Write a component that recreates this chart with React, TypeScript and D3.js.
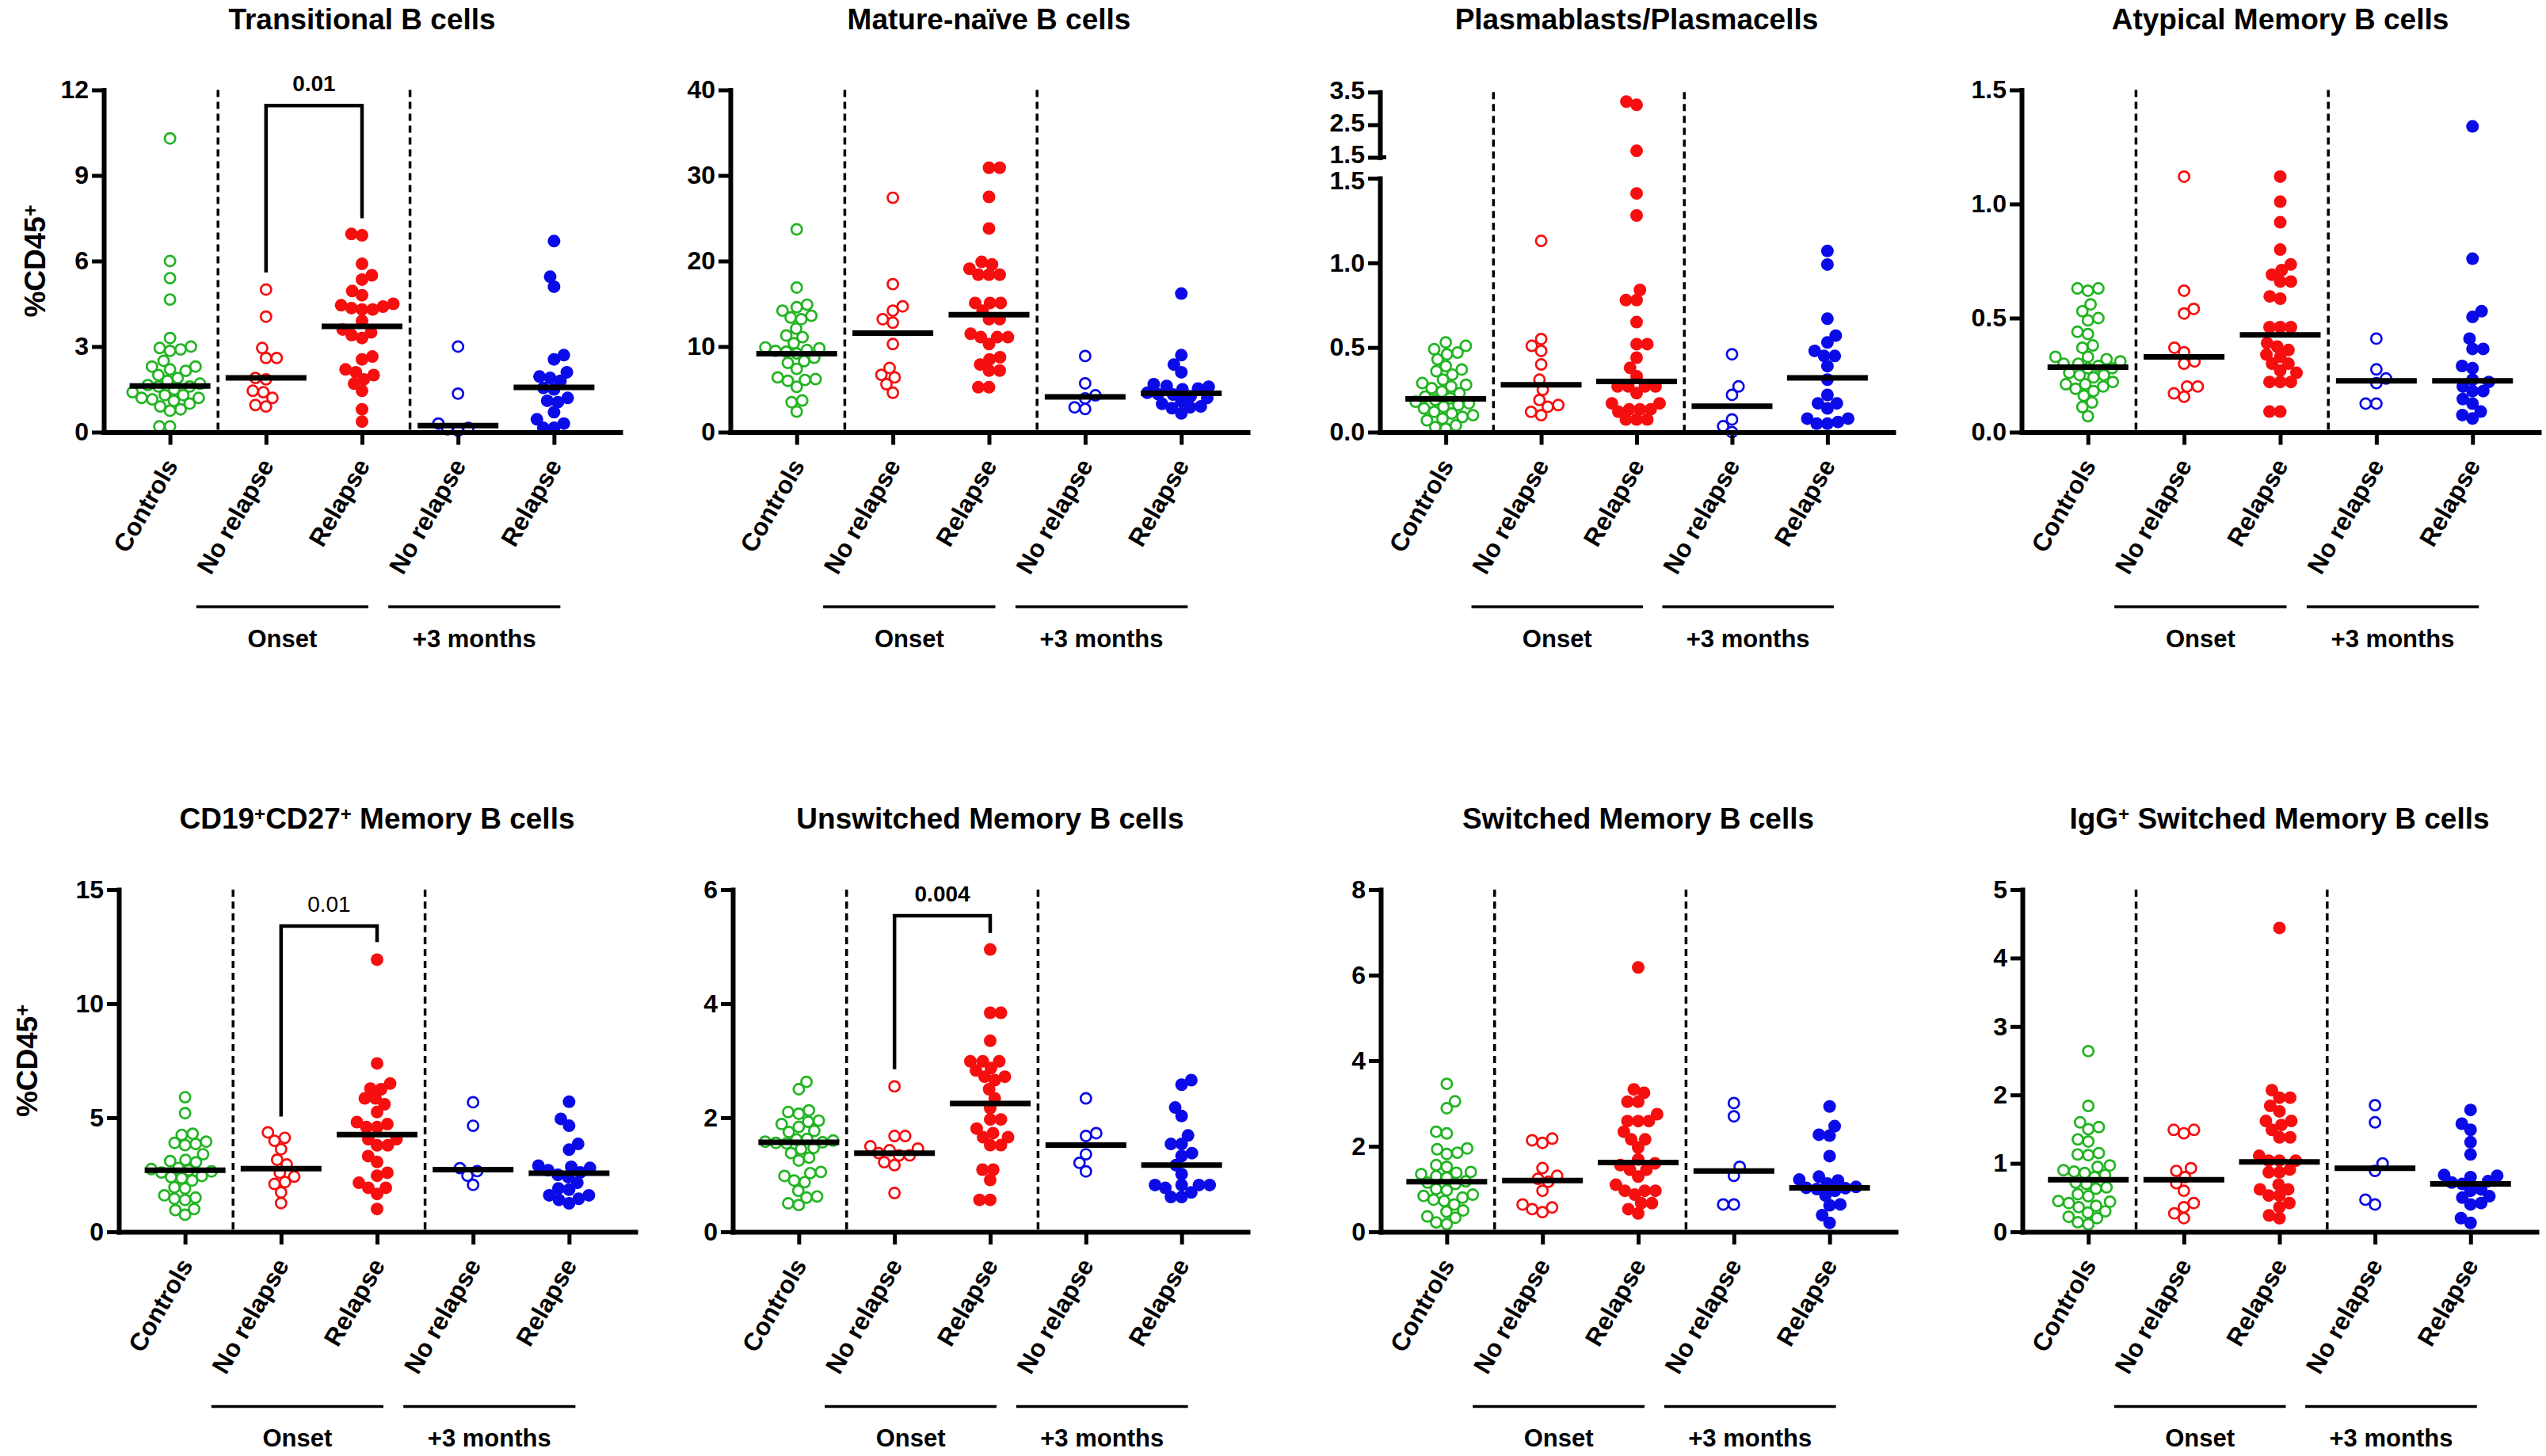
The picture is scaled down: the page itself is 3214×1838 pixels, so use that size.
import { useEffect, useRef } from 'react';
import * as d3 from 'd3';

// ---- categories / labels ----
const categories = ['Controls', 'No relapse', 'Relapse', 'No relapse', 'Relapse'];
const timepoints = ['Onset', '+3 months'];
const timepointGroups = [[1, 2], [3, 4]];
const groupColors = ['#22b422', '#f50f0f', '#f50f0f', '#0b0be8', '#0b0be8'];
const groupFilled = [false, false, true, false, true];

const panelTitles = [
  'Transitional B cells',
  'Mature-naïve B cells',
  'Plasmablasts/Plasmacells',
  'Atypical Memory B cells',
  'CD19^+CD27^+ Memory B cells',
  'Unswitched Memory B cells',
  'Switched Memory B cells',
  'IgG^+ Switched Memory B cells',
];

// ---- values (% of CD45+), groups: controls, onset no relapse, onset relapse, +3m no relapse, +3m relapse ----
const transitional = [
  [10.3, 6.0, 5.4, 4.65, 3.3, 3.0, 2.95, 2.9, 2.85, 2.5, 2.3, 2.3, 2.2, 2.15, 2.0, 1.9, 1.8, 1.7, 1.65, 1.6, 1.6, 1.5, 1.4, 1.3, 1.3, 1.2, 1.2, 1.15, 1.1, 1.0, 0.9, 0.8, 0.75, 0.2, 0.2],
  [5.0, 4.05, 2.95, 2.6, 2.6, 1.9, 1.85, 1.45, 1.4, 1.2, 0.95, 0.9],
  [6.95, 6.9, 5.9, 5.5, 5.35, 4.95, 4.8, 4.5, 4.45, 4.4, 4.35, 4.3, 4.3, 3.9, 3.6, 3.5, 3.4, 3.3, 2.65, 2.55, 2.2, 2.1, 2.0, 1.85, 1.7, 1.45, 0.8, 0.37],
  [3.0, 1.35, 0.3, 0.15, 0.1, 0.05],
  [6.7, 5.45, 5.1, 2.7, 2.55, 2.1, 1.95, 1.9, 1.8, 1.55, 1.5, 1.2, 1.1, 1.05, 0.7, 0.45, 0.3, 0.15, 0.15],
];
const transitionalMedians = [1.62, 1.9, 3.71, 0.23, 1.57];

const matureNaive = [
  [23.7, 16.9, 14.9, 14.6, 14.2, 13.6, 13.4, 13.2, 12.1, 11.3, 11.1, 10.4, 9.9, 9.8, 9.6, 9.5, 9.4, 9.2, 8.7, 8.3, 8.1, 7.4, 6.4, 6.2, 6.1, 6.0, 5.3, 3.7, 3.5, 2.4],
  [27.4, 17.3, 14.7, 14.2, 13.2, 12.8, 10.3, 7.5, 6.7, 6.4, 5.6, 4.6],
  [30.9, 30.9, 27.5, 23.8, 19.9, 19.6, 19.1, 18.4, 18.4, 18.4, 15.1, 15.1, 15.1, 14.2, 13.2, 13.2, 11.5, 11.1, 11.1, 11.1, 10.3, 8.75, 8.5, 7.9, 7.2, 7.2, 5.25, 5.25],
  [8.9, 5.7, 4.3, 3.95, 2.9, 2.7],
  [16.2, 9.0, 7.9, 7.0, 5.6, 5.4, 5.3, 5.1, 5.0, 4.6, 4.45, 4.4, 4.2, 4.0, 3.6, 3.3, 3.0, 2.9, 2.8, 2.2],
];
const matureNaiveMedians = [9.17, 11.57, 13.73, 4.12, 4.53];

const plasma = [
  [0.53, 0.51, 0.49, 0.47, 0.46, 0.43, 0.39, 0.37, 0.36, 0.34, 0.31, 0.29, 0.28, 0.27, 0.26, 0.24, 0.23, 0.21, 0.2, 0.19, 0.18, 0.17, 0.16, 0.15, 0.14, 0.12, 0.11, 0.1, 0.09, 0.08, 0.07, 0.04, 0.03, 0.02],
  [1.13, 0.55, 0.51, 0.48, 0.4, 0.31, 0.25, 0.19, 0.16, 0.15, 0.12, 0.1],
  [3.21, 3.11, 1.7, 1.41, 1.28, 0.84, 0.78, 0.78, 0.65, 0.52, 0.52, 0.44, 0.38, 0.33, 0.27, 0.27, 0.27, 0.27, 0.23, 0.17, 0.17, 0.135, 0.135, 0.135, 0.12, 0.075, 0.075, 0.075],
  [0.46, 0.27, 0.22, 0.075, 0.035, 0.0],
  [1.07, 0.99, 0.67, 0.57, 0.53, 0.48, 0.45, 0.45, 0.39, 0.31, 0.22, 0.17, 0.17, 0.14, 0.08, 0.08, 0.06, 0.05, 0.05],
];
const plasmaMedians = [0.196, 0.28, 0.3, 0.153, 0.32];

const atypical = [
  [0.63, 0.63, 0.62, 0.56, 0.53, 0.5, 0.49, 0.44, 0.43, 0.38, 0.37, 0.33, 0.33, 0.32, 0.31, 0.3, 0.3, 0.29, 0.28, 0.28, 0.26, 0.25, 0.25, 0.24, 0.22, 0.21, 0.21, 0.2, 0.19, 0.18, 0.16, 0.13, 0.11, 0.07],
  [1.12, 0.62, 0.54, 0.52, 0.37, 0.35, 0.31, 0.3, 0.2, 0.2, 0.17, 0.155],
  [1.12, 1.01, 0.92, 0.8, 0.735, 0.71, 0.69, 0.66, 0.66, 0.595, 0.585, 0.46, 0.46, 0.46, 0.39, 0.375, 0.36, 0.34, 0.33, 0.3, 0.3, 0.27, 0.26, 0.22, 0.22, 0.22, 0.09, 0.09],
  [0.41, 0.275, 0.235, 0.215, 0.125, 0.125],
  [1.34, 0.76, 0.53, 0.505, 0.41, 0.365, 0.365, 0.29, 0.28, 0.23, 0.22, 0.2, 0.18, 0.18, 0.145, 0.125, 0.09, 0.075, 0.06],
];
const atypicalMedians = [0.285, 0.33, 0.426, 0.225, 0.225];

const memory = [
  [5.9, 5.2, 4.3, 4.25, 3.95, 3.9, 3.85, 3.8, 3.4, 3.15, 3.1, 3.05, 2.8, 2.75, 2.7, 2.65, 2.6, 2.45, 2.4, 2.35, 2.25, 1.95, 1.9, 1.6, 1.5, 1.45, 1.4, 1.0, 0.95, 0.75],
  [4.36, 4.12, 3.99, 3.62, 3.16, 2.95, 2.59, 2.42, 2.18, 2.1, 1.73, 1.26],
  [11.93, 7.38, 6.5, 6.28, 6.25, 5.85, 5.85, 5.59, 5.25, 4.81, 4.72, 4.59, 4.59, 4.06, 4.06, 3.79, 3.79, 3.32, 3.06, 2.59, 2.46, 2.15, 1.93, 1.93, 1.66, 1.0],
  [5.68, 4.65, 2.79, 2.66, 2.46, 2.06],
  [5.7, 4.95, 4.65, 3.85, 3.6, 2.9, 2.85, 2.8, 2.7, 2.6, 2.5, 2.4, 2.15, 1.9, 1.85, 1.6, 1.6, 1.45, 1.4, 1.25],
];
const memoryMedians = [2.7, 2.77, 4.26, 2.73, 2.57];

const unswitched = [
  [2.63, 2.5, 2.13, 2.1, 2.07, 1.95, 1.93, 1.89, 1.84, 1.77, 1.75, 1.63, 1.62, 1.6, 1.58, 1.57, 1.56, 1.55, 1.47, 1.45, 1.38, 1.3, 1.25, 1.05, 1.03, 0.98, 0.9, 0.87, 0.72, 0.62, 0.6, 0.5, 0.47],
  [2.55, 1.68, 1.68, 1.5, 1.46, 1.43, 1.38, 1.34, 1.34, 1.22, 1.17, 0.68],
  [4.95, 3.84, 3.84, 3.35, 2.99, 2.99, 2.99, 2.87, 2.83, 2.72, 2.72, 2.66, 2.5, 2.34, 2.17, 1.97, 1.97, 1.81, 1.73, 1.66, 1.66, 1.52, 1.52, 1.09, 1.09, 0.91, 0.56, 0.56],
  [2.34, 1.73, 1.68, 1.36, 1.21, 1.06],
  [2.66, 2.58, 2.18, 2.03, 1.69, 1.54, 1.54, 1.38, 1.33, 1.17, 1.01, 0.82, 0.82, 0.82, 0.82, 0.77, 0.69, 0.61, 0.61],
];
const unswitchedMedians = [1.57, 1.38, 2.25, 1.52, 1.17];

const switched = [
  [3.46, 3.05, 2.89, 2.34, 2.3, 1.95, 1.93, 1.85, 1.82, 1.56, 1.52, 1.4, 1.38, 1.35, 1.3, 1.27, 1.18, 1.15, 1.12, 1.0, 0.97, 0.87, 0.84, 0.8, 0.75, 0.72, 0.64, 0.5, 0.47, 0.36, 0.33, 0.22, 0.18],
  [2.18, 2.14, 2.08, 1.49, 1.31, 1.24, 1.17, 0.96, 0.64, 0.57, 0.53, 0.46],
  [6.18, 3.33, 3.25, 3.04, 3.04, 2.75, 2.59, 2.59, 2.59, 2.34, 2.16, 2.16, 1.97, 1.69, 1.6, 1.56, 1.45, 1.45, 1.29, 1.1, 0.96, 0.96, 0.96, 0.87, 0.67, 0.67, 0.53, 0.43],
  [3.01, 2.7, 1.52, 1.31, 0.64, 0.64],
  [2.93, 2.47, 2.27, 2.25, 1.77, 1.29, 1.22, 1.2, 1.13, 1.05, 1.03, 1.02, 1.0, 0.96, 0.85, 0.64, 0.62, 0.39, 0.21],
];
const switchedMedians = [1.17, 1.2, 1.62, 1.42, 1.03];

const iggSwitched = [
  [2.64, 1.84, 1.6, 1.53, 1.5, 1.35, 1.32, 1.15, 1.13, 1.12, 0.97, 0.95, 0.9, 0.88, 0.86, 0.83, 0.8, 0.72, 0.7, 0.65, 0.63, 0.55, 0.52, 0.45, 0.44, 0.42, 0.38, 0.36, 0.3, 0.28, 0.22, 0.2, 0.14, 0.11],
  [1.49, 1.49, 1.44, 0.93, 0.89, 0.8, 0.71, 0.6, 0.42, 0.36, 0.27, 0.2],
  [4.44, 2.07, 1.96, 1.96, 1.84, 1.76, 1.62, 1.62, 1.56, 1.49, 1.38, 1.38, 1.11, 1.04, 1.04, 1.04, 0.91, 0.87, 0.87, 0.69, 0.62, 0.62, 0.53, 0.53, 0.42, 0.36, 0.24, 0.2],
  [1.85, 1.6, 1.0, 0.89, 0.47, 0.4],
  [1.78, 1.58, 1.49, 1.31, 1.13, 0.83, 0.82, 0.8, 0.74, 0.72, 0.7, 0.62, 0.6, 0.52, 0.5, 0.42, 0.4, 0.2, 0.13],
];
const iggSwitchedMedians = [0.76, 0.76, 1.02, 0.93, 0.7];

const panelValues = [transitional, matureNaive, plasma, atypical, memory, unswitched, switched, iggSwitched];
const panelMedians = [transitionalMedians, matureNaiveMedians, plasmaMedians, atypicalMedians, memoryMedians, unswitchedMedians, switchedMedians, iggSwitchedMedians];

// y ticks (plasma panel has a broken axis: lower 0-1.5, upper 1.5-3.5)
const panelTicks = [
  [0, 3, 6, 9, 12],
  [0, 10, 20, 30, 40],
  [0, 0.5, 1.0, 1.5],
  [0, 0.5, 1.0, 1.5],
  [0, 5, 10, 15],
  [0, 2, 4, 6],
  [0, 2, 4, 6, 8],
  [0, 1, 2, 3, 4, 5],
];
const plasmaUpperTicks = [1.5, 2.5, 3.5];
const decimalPanels = [2, 3];

// p-value brackets: panel, bracket level, leg ends, label
const sigPanel = [0, 4, 5];
const sigTop = [11.45, 13.4, 5.54];
const sigLeft = [5.6, 5.05, 2.85];
const sigRight = [7.5, 12.7, 5.24];
const sigLabel = ['0.01', '0.01', '0.004'];
const sigBold = [true, false, true];

// ---- layout ----
const W = 3214;
const H = 1838;
const FONT = '"Liberation Sans", Arial, Helvetica, sans-serif';
const panelLeft = [131, 922, 1742, 2552, 150, 925, 1743, 2553];
const panelRight = [783, 1575, 2390, 3205, 802, 1575, 2393, 3202];
const rowBase = [545.5, 1555];
const yLabelX = [57, 47];
const plotH = 432;

function swarm(ys: number[], D: number): number[] {
  const order = d3.range(ys.length).sort((a, b) => ys[b] - ys[a]);
  const placed: { x: number; y: number }[] = [];
  const xs = new Array(ys.length).fill(0);
  let flip = 1;
  for (const i of order) {
    const y = ys[i];
    const near = placed.filter(p => Math.abs(p.y - y) < D);
    const cands = [0];
    near.forEach(p => {
      const dx = Math.sqrt(D * D - (p.y - y) ** 2);
      cands.push(p.x - dx, p.x + dx);
    });
    cands.sort((a, b) => {
      const d = Math.abs(a) - Math.abs(b);
      if (Math.abs(d) < 0.5) return (a - b) * flip;
      return d;
    });
    let x = 0;
    for (const c of cands) {
      if (near.every(p => (p.x - c) ** 2 + (p.y - y) ** 2 >= D * D - 0.5)) { x = c; break; }
    }
    if (Math.abs(x) > 0.5) flip = -flip;
    placed.push({ x, y });
    xs[i] = x;
  }
  return xs;
}

function styleAxis(ax: any) {
  ax.select('.domain').attr('stroke-width', 6).attr('stroke-linecap', 'square');
  ax.selectAll('.tick line').attr('stroke-width', 5);
  ax.selectAll('.tick text')
    .attr('font-size', 32)
    .attr('font-weight', 'bold')
    .attr('font-family', FONT)
    .attr('fill', '#000');
}

function addTitle(g: any, text: string, x: number, y: number, size: number) {
  const t = g.append('text')
    .attr('x', x).attr('y', y)
    .attr('text-anchor', 'middle')
    .attr('font-family', FONT)
    .attr('font-weight', 'bold')
    .attr('font-size', size);
  text.split(/(\^\+)/).filter(s => s.length).forEach(part => {
    if (part === '^+') {
      t.append('tspan').attr('baseline-shift', '42%').attr('font-size', size * 0.65).text('+');
    } else {
      t.append('tspan').text(part);
    }
  });
  return t;
}

export default function App() {
  const ref = useRef<SVGSVGElement>(null);

  useEffect(() => {
    if (!ref.current) return;
    const svg = d3.select(ref.current);
    svg.selectAll('*').remove();
    svg.append('rect').attr('width', W).attr('height', H).attr('fill', '#fff');

    panelValues.forEach((groups, pi) => {
      const row = pi < 4 ? 0 : 1;
      const y0 = rowBase[row];
      const left = panelLeft[pi];
      const right = panelRight[pi];
      const g = svg.append('g');
      const broken = pi === 2;

      const x = d3.scalePoint<number>().domain(d3.range(categories.length)).range([left, right]).padding(0.69);

      const ticks = panelTicks[pi];
      const lower = d3.scaleLinear().domain([0, broken ? 1.5 : ticks[ticks.length - 1]])
        .range([y0, broken ? y0 - 0.742 * plotH : y0 - plotH]);
      const upper = d3.scaleLinear().domain([1.5, 3.5]).range([y0 - 0.803 * plotH, y0 - 0.9935 * plotH]);
      const y = (v: number) => (broken && v > 1.5 ? upper(v) : lower(v));
      const top = broken ? upper(3.5) : y0 - plotH;

      // dashed separators between groups
      [[0, 1], [2, 3]].forEach(([a, b]) => {
        const xm = ((x(a) as number) + (x(b) as number)) / 2;
        g.append('line')
          .attr('x1', xm).attr('x2', xm).attr('y1', top).attr('y2', y0)
          .attr('stroke', '#000').attr('stroke-width', 3.5).attr('stroke-dasharray', '9,6');
      });

      // points
      groups.forEach((vals, gi) => {
        const ys = vals.map(y);
        const xs = swarm(ys, 13.5);
        const cx = x(gi) as number;
        g.append('g').selectAll('circle')
          .data(vals.map((v, i) => ({ cx: cx + xs[i], cy: ys[i] })))
          .join('circle')
          .attr('cx', d => d.cx)
          .attr('cy', d => d.cy)
          .attr('r', groupFilled[gi] ? 8 : 6.6)
          .attr('fill', groupFilled[gi] ? groupColors[gi] : 'none')
          .attr('stroke', groupColors[gi])
          .attr('stroke-width', groupFilled[gi] ? 0 : 2.7);
      });

      // median lines
      panelMedians[pi].forEach((m, gi) => {
        const cx = x(gi) as number;
        g.append('line')
          .attr('x1', cx - 51).attr('x2', cx + 51)
          .attr('y1', y(m)).attr('y2', y(m))
          .attr('stroke', '#000').attr('stroke-width', 7);
      });

      // axes
      const fmt = decimalPanels.includes(pi) ? d3.format('.1f') : d3.format('d');
      const yAx = g.append('g').attr('transform', `translate(${left},0)`)
        .call(d3.axisLeft(lower).tickValues(ticks).tickSize(15).tickSizeOuter(0).tickPadding(4).tickFormat(fmt as any));
      styleAxis(yAx);
      if (broken) {
        yAx.selectAll('.tick text').filter((d: any) => d === 1.5).attr('dy', '0.42em');
        const yAx2 = g.append('g').attr('transform', `translate(${left},0)`)
          .call(d3.axisLeft(upper).tickValues(plasmaUpperTicks).tickSize(15).tickSizeOuter(0).tickPadding(4).tickFormat(fmt as any));
        styleAxis(yAx2);
        yAx2.selectAll('.tick text').attr('dy', '0.26em');
        yAx2.selectAll('.tick text').filter((d: any) => d === 1.5).attr('dy', '0.2em');
        g.append('line')
          .attr('x1', left).attr('x2', left + 8)
          .attr('y1', upper(1.5)).attr('y2', upper(1.5))
          .attr('stroke', '#000').attr('stroke-width', 5);
      }

      const xAx = g.append('g').attr('transform', `translate(0,${y0})`)
        .call(d3.axisBottom(x).tickSize(16).tickSizeOuter(0).tickFormat(() => ''));
      styleAxis(xAx);

      // category labels
      categories.forEach((c, gi) => {
        g.append('text')
          .attr('transform', `translate(${(x(gi) as number) + 11},${y0 + 42}) rotate(-60)`)
          .attr('text-anchor', 'end')
          .attr('font-family', FONT)
          .attr('font-weight', 'bold')
          .attr('font-size', 31.5)
          .text(c);
      });

      // time point brackets
      timepoints.forEach((tp, ti) => {
        const [a, b] = timepointGroups[ti];
        const x1 = (x(a) as number) - 88;
        const x2 = (x(b) as number) + 8;
        g.append('line')
          .attr('x1', x1).attr('x2', x2).attr('y1', y0 + 220.5).attr('y2', y0 + 220.5)
          .attr('stroke', '#000').attr('stroke-width', 3.5);
        g.append('text')
          .attr('x', (x1 + x2) / 2).attr('y', y0 + 271)
          .attr('text-anchor', 'middle')
          .attr('font-family', FONT)
          .attr('font-weight', 'bold')
          .attr('font-size', 31)
          .text(tp);
      });

      // title
      addTitle(g, panelTitles[pi], (left + right) / 2, y0 - 509, 37);

      // y label
      if (pi === 0 || pi === 4) {
        const t = g.append('text')
          .attr('transform', `translate(${yLabelX[row]},${y0 - plotH / 2}) rotate(-90)`)
          .attr('text-anchor', 'middle')
          .attr('font-family', FONT)
          .attr('font-weight', 'bold')
          .attr('font-size', 37);
        t.append('tspan').text('%CD45');
        t.append('tspan').attr('baseline-shift', '42%').attr('font-size', 25).text('+');
      }

      // p-value bracket
      sigPanel.forEach((sp, si) => {
        if (sp !== pi) return;
        const xa = x(1) as number;
        const xb = x(2) as number;
        g.append('path')
          .attr('d', `M${xa},${y(sigLeft[si])}V${y(sigTop[si])}H${xb}V${y(sigRight[si])}`)
          .attr('fill', 'none').attr('stroke', '#000').attr('stroke-width', 4.5);
        g.append('text')
          .attr('x', (xa + xb) / 2).attr('y', y(sigTop[si]) - 18)
          .attr('text-anchor', 'middle')
          .attr('font-family', FONT)
          .attr('font-weight', sigBold[si] ? 'bold' : 'normal')
          .attr('font-size', 28)
          .text(sigLabel[si]);
      });
    });
  }, []);

  return (
    <svg
      ref={ref}
      width={W}
      height={H}
      style={{ position: 'absolute', left: 0, top: 0, display: 'block' }}
    />
  );
}
